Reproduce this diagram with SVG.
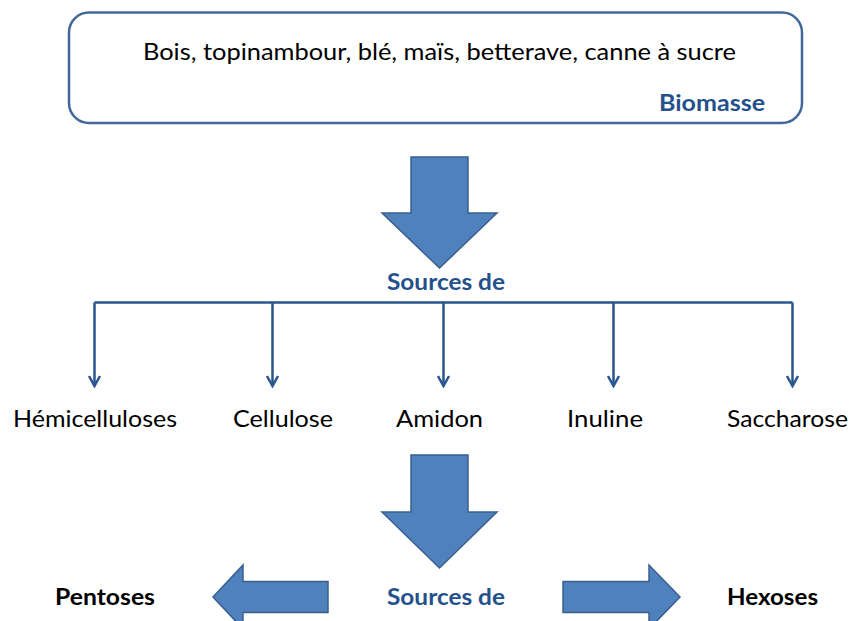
<svg xmlns="http://www.w3.org/2000/svg" width="851" height="621" viewBox="0 0 851 621">
<style>
  text { font-family: Lato, "Open Sans", "Liberation Sans", sans-serif; font-size: 23px; }
  .blk { fill: #000000; }
  .blu { fill: #24518C; font-weight: bold; }
  .bold { font-weight: bold; }
  .big { fill: #4F81BD; stroke: #3A5F8E; stroke-width: 1.5; stroke-linejoin: miter; }
  .con { fill: none; stroke: #2A558E; stroke-width: 2.5; }
</style>
<defs>
  <marker id="chev" viewBox="0 0 14 14" refX="12" refY="7" markerWidth="14" markerHeight="14" markerUnits="userSpaceOnUse" orient="auto">
    <path d="M2,1.5 L12,7 L2,12.5" fill="none" stroke="#2A558E" stroke-width="2.5"/>
  </marker>
</defs>
<rect width="851" height="621" fill="#ffffff"/>

<g id="biomasse">
  <rect x="69" y="12.5" width="733" height="110.5" rx="20" ry="20" fill="#ffffff" stroke="#41689A" stroke-width="2.5"/>
  <text class="blk" x="143" y="60" textLength="593" lengthAdjust="spacingAndGlyphs">Bois, topinambour, blé, maïs, betterave, canne à sucre</text>
  <text class="blu" x="659" y="111" textLength="106" lengthAdjust="spacingAndGlyphs">Biomasse</text>
</g>

<g id="arrow1">
  <polygon class="big" points="411,157 468,157 468,213 497,213 439.5,268 382,213 411,213"/>
</g>

<g id="sources1">
  <text class="blu" x="387" y="290" textLength="118" lengthAdjust="spacingAndGlyphs">Sources de</text>
</g>

<g id="connectors">
  <path class="con" d="M94.5,302.5 H792.5"/>
  <path class="con" d="M94.5,302.5 V386" marker-end="url(#chev)"/>
  <path class="con" d="M272.5,302.5 V386" marker-end="url(#chev)"/>
  <path class="con" d="M443.5,302.5 V386" marker-end="url(#chev)"/>
  <path class="con" d="M613.5,302.5 V386" marker-end="url(#chev)"/>
  <path class="con" d="M792.5,302.5 V386" marker-end="url(#chev)"/>
</g>

<g id="hemicelluloses"><text class="blk" x="13" y="427" textLength="164" lengthAdjust="spacingAndGlyphs">Hémicelluloses</text></g>
<g id="cellulose"><text class="blk" x="233" y="427" textLength="100" lengthAdjust="spacingAndGlyphs">Cellulose</text></g>
<g id="amidon"><text class="blk" x="396" y="427" textLength="87" lengthAdjust="spacingAndGlyphs">Amidon</text></g>
<g id="inuline"><text class="blk" x="567" y="427" textLength="76" lengthAdjust="spacingAndGlyphs">Inuline</text></g>
<g id="saccharose"><text class="blk" x="727" y="427" textLength="121" lengthAdjust="spacingAndGlyphs">Saccharose</text></g>

<g id="arrow2">
  <polygon class="big" points="411,455 468,455 468,512 497,512 439.5,568 382,512 411,512"/>
</g>

<g id="sources2">
  <text class="blu" x="387" y="605" textLength="118" lengthAdjust="spacingAndGlyphs">Sources de</text>
</g>

<g id="arrow-left">
  <polygon class="big" points="328,581.5 243,581.5 243,565 213,597 243,629 243,612.5 328,612.5"/>
</g>
<g id="arrow-right">
  <polygon class="big" points="563,581.5 649,581.5 649,565 680,597 649,629 649,612.5 563,612.5"/>
</g>

<g id="pentoses"><text class="blk bold" x="55" y="605" textLength="100" lengthAdjust="spacingAndGlyphs">Pentoses</text></g>
<g id="hexoses"><text class="blk bold" x="727" y="605" textLength="91" lengthAdjust="spacingAndGlyphs">Hexoses</text></g>
</svg>
